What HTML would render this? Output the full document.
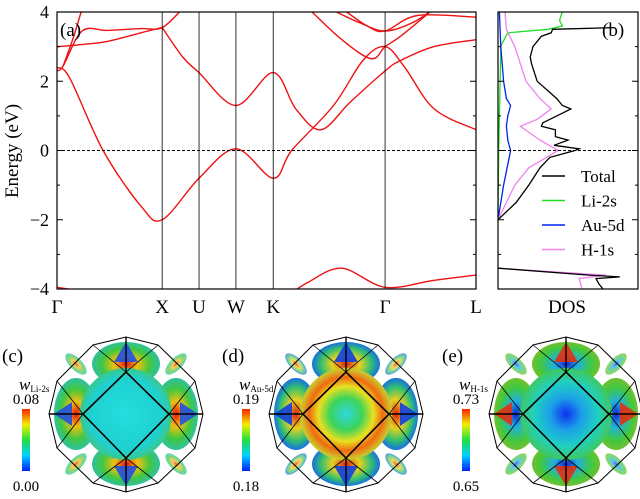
<!DOCTYPE html>
<html><head><meta charset="utf-8">
<style>
body{margin:0;background:#fff;}
svg{display:block;font-family:"Liberation Serif",serif;}
</style></head>
<body>
<svg id="fig" width="640" height="499" viewBox="0 0 640 499" xmlns="http://www.w3.org/2000/svg">
<defs>
<radialGradient id="gc" cx="50%" cy="50%" r="50%"><stop offset="0" stop-color="#22dede"/><stop offset="0.8" stop-color="#1fd0cf"/><stop offset="1" stop-color="#3cc88a"/></radialGradient>
<radialGradient id="gd" cx="50%" cy="50%" r="50%"><stop offset="0" stop-color="#30d8e0"/><stop offset="0.35" stop-color="#3bd45a"/><stop offset="0.6" stop-color="#e8e020"/><stop offset="0.8" stop-color="#f06a10"/><stop offset="1" stop-color="#c8d030"/></radialGradient>
<radialGradient id="ge" cx="50%" cy="50%" r="50%"><stop offset="0" stop-color="#1030f0"/><stop offset="0.35" stop-color="#1aa0e8"/><stop offset="0.7" stop-color="#20d0c0"/><stop offset="1" stop-color="#40c860"/></radialGradient>
<radialGradient id="lc" cx="50%" cy="50%" r="50%"><stop offset="0" stop-color="#e81010"/><stop offset="0.35" stop-color="#f0c010"/><stop offset="0.7" stop-color="#40c840"/><stop offset="1" stop-color="#30c0a0"/></radialGradient>
<radialGradient id="ld" cx="50%" cy="50%" r="50%"><stop offset="0" stop-color="#e02010"/><stop offset="0.4" stop-color="#e8d020"/><stop offset="0.75" stop-color="#30c070"/><stop offset="1" stop-color="#1870e0"/></radialGradient>
<radialGradient id="le" cx="50%" cy="50%" r="50%"><stop offset="0" stop-color="#1020d0"/><stop offset="0.35" stop-color="#20b0e0"/><stop offset="0.75" stop-color="#40c840"/><stop offset="1" stop-color="#70c030"/></radialGradient>
<linearGradient id="cbar" x1="0" y1="1" x2="0" y2="0"><stop offset="0" stop-color="#0020ff"/><stop offset="0.25" stop-color="#00d0ff"/><stop offset="0.5" stop-color="#20e040"/><stop offset="0.75" stop-color="#f0f000"/><stop offset="1" stop-color="#ff2000"/></linearGradient>
<clipPath id="clipA"><rect x="57" y="12" width="419" height="277"/></clipPath>
<clipPath id="clipB"><rect x="498" y="12" width="140" height="277"/></clipPath>
</defs>
<g id="bands" clip-path="url(#clipA)"></g>
<g id="dos" clip-path="url(#clipB)"></g>
<g id="axes"></g>
<g id="bz"></g>
</svg>
<script>
const NS="http://www.w3.org/2000/svg";
const svg=document.getElementById('fig');
function mk(tag,attrs,parent){const e=document.createElementNS(NS,tag);for(const k in attrs)e.setAttribute(k,attrs[k]);(parent||svg).appendChild(e);return e;}

// ---- data ----
const kLabels=["Γ","X","U","W","K","Γ","L"];
const kTicks=[0,0.251,0.339,0.427,0.516,0.783,1.0];
const eTicks=[-4,-2,0,2,4];
const band1K=[0,0.03,0.11,0.2,0.251,0.339,0.427,0.516,0.56,0.66,0.73,0.783,0.83,0.9,1.0];
const band1E=[2.4,2.1,0,-1.6,-2.0,-0.8,0.05,-0.8,0,1.3,2.6,3.0,2.4,1.2,0.6];
const band2K=[0.251,0.3,0.339,0.427,0.516,0.57,0.63,0.7,0.783,0.82,0.9,1.0];
const band2E=[3.55,2.7,2.25,1.3,2.25,1.2,0.6,1.4,2.3,2.6,3.0,3.2];
const band3K=[0,0.015,0.06,0.12,0.2,0.251,0.3];
const band3E=[2.3,2.45,3.45,3.47,3.52,3.55,4.1];
const band4K=[0,0.05,0.12,0.2,0.251];
const band4E=[3.0,3.05,3.15,3.4,3.55];
const band5K=[0.015,0.04,0.06];
const band5E=[2.45,3.3,4.1];
const band6K=[0.6,0.68,0.75,0.783,0.82,0.9];
const band6E=[4.1,3.2,2.65,3.0,3.3,4.1];
const band7K=[0.65,0.72,0.783,0.85,0.9];
const band7E=[4.1,3.7,3.45,3.7,4.1];
const band8K=[0.68,0.74,0.783,0.86,1.0];
const band8E=[4.1,3.6,3.45,3.9,3.85];
const band9K=[0.55,0.6,0.68,0.783,0.9,1.0];
const band9E=[-4.2,-3.8,-3.4,-3.95,-3.75,-3.6];
const band10K=[0,0.05];
const band10E=[-3.95,-4.05];
const bandK=[band1K,band2K,band3K,band4K,band5K,band6K,band7K,band8K,band9K,band10K];
const bandE=[band1E,band2E,band3E,band4E,band5E,band6E,band7E,band8E,band9E,band10E];
const dosNames=["Total","Li-2s","Au-5d","H-1s"];
const dosColors=["#000","#22dd22","#0022ee","#ee82ee"];
const totE=[-2,-1.5,-1,-0.5,-0.2,0,0.05,0.15,0.3,0.4,0.6,0.7,0.8,1.0,1.2,1.3,1.5,2,2.5,2.7,3,3.3,3.4,3.5,3.55];
const totD=[0,1.3,2.2,3,3.7,5.5,5.8,4,5,4.1,4.1,3.1,3.2,4.2,5.2,4.6,4.2,2.8,2.4,2.3,2.5,3.1,3.8,3.9,8.3];
const totLowE=[-3.4,-3.6,-3.65,-3.7,-3.85,-4];
const totLowD=[0,6.5,8.7,7,7.2,7.5];
const hE=[-2,-1,-0.5,0,0.3,0.7,0.9,1.2,1.5,2,2.5,3,3.5,4];
const hD=[0,1.2,2.2,4.3,3,1.6,2.8,3.8,3,2,1.6,1.2,0.6,0.5];
const hLowE=[-3.4,-3.6,-3.7,-4];
const hLowD=[0,7.7,5.8,6];
const auE=[-2,-1,0,0.3,0.7,1.0,1.3,1.5,2,3,4];
const auD=[0,0.4,0.9,0.7,0.6,0.7,0.9,0.6,0.4,0.2,0.1];
const liE=[-2,0,3,3.1,3.4,3.5,3.6,3.75,3.9,4];
const liD=[0,0.05,0.2,0.3,0.7,3.6,4.6,4.4,4.5,4.6];

const X0=57,X1=476,Y0=12,Y1=289;
const kx=k=>X0+k*(X1-X0);
const ey=e=>Y1-(e+4)/8*(Y1-Y0);
const dx=d=>498+d*14;

function spline(pts){
  let d="M"+pts[0][0].toFixed(1)+","+pts[0][1].toFixed(1);
  for(let i=0;i<pts.length-1;i++){
    const p0=pts[i-1]||pts[i],p1=pts[i],p2=pts[i+1],p3=pts[i+2]||p2;
    const t=0.5/3;
    const c1=[p1[0]+(p2[0]-p0[0])*t,p1[1]+(p2[1]-p0[1])*t];
    const c2=[p2[0]-(p3[0]-p1[0])*t,p2[1]-(p3[1]-p1[1])*t];
    d+="C"+c1.map(v=>v.toFixed(1))+" "+c2.map(v=>v.toFixed(1))+" "+p2.map(v=>v.toFixed(1));
  }
  return d;
}
const gB=document.getElementById('bands');
bandK.forEach((ks,i)=>{
  const p=mk('path',{d:spline(ks.map((k,j)=>[kx(k),ey(bandE[i][j])])),fill:'none',stroke:'#ee1111','stroke-width':1.4},gB);
  
  
});
const gD=document.getElementById('dos');
function dosLine(E,D,col,name){
  const p=mk('polyline',{points:E.map((e,j)=>dx(D[j]).toFixed(1)+","+ey(e).toFixed(1)).join(" "),fill:'none',stroke:col,'stroke-width':1.3},gD);
  
  
}
dosLine(liE,liD,dosColors[1],'dos-li-2s');
dosLine(auE,auD,dosColors[2],'dos-au-5d');
dosLine(hE,hD,dosColors[3],'dos-h-1s');
dosLine(hLowE,hLowD,dosColors[3],'dos-h-1s-low');
dosLine(totE,totD,dosColors[0],'dos-total');
dosLine(totLowE,totLowD,dosColors[0],'dos-total-low');

const gA=document.getElementById('axes');
kTicks.forEach((k,i)=>{
  if(i>0&&i<kTicks.length-1){const l=mk('line',{x1:kx(k),x2:kx(k),y1:Y0,y2:Y1,stroke:'#000','stroke-width':0.8},gA);
  }
  const t=mk('text',{x:kx(k),y:313,'font-size':19,'text-anchor':'middle'},gA);t.textContent=kLabels[i];
  
});
mk('line',{x1:X0,x2:X1,y1:ey(0),y2:ey(0),stroke:'#000','stroke-width':1,'stroke-dasharray':'3,2'},gA);
mk('line',{x1:498,x2:638,y1:ey(0),y2:ey(0),stroke:'#000','stroke-width':1,'stroke-dasharray':'3,2'},gA);
eTicks.forEach(e=>{
  const t=mk('text',{x:49,y:ey(e)+6,'font-size':18,'text-anchor':'end'},gA);t.textContent=(e<0?"−":"")+Math.abs(e);
  
});
for(let e=-4;e<=4;e+=1){
  const len=e%2===0?6:3;
  mk('line',{x1:X0,x2:X0+len,y1:ey(e),y2:ey(e),stroke:'#000'},gA);
  mk('line',{x1:X1,x2:X1-len,y1:ey(e),y2:ey(e),stroke:'#000'},gA);
  mk('line',{x1:498,x2:498+len,y1:ey(e),y2:ey(e),stroke:'#000'},gA);
  mk('line',{x1:638,x2:638-len,y1:ey(e),y2:ey(e),stroke:'#000'},gA);
}
const fa=mk('rect',{x:X0,y:Y0,width:X1-X0,height:Y1-Y0,fill:'none',stroke:'#000','stroke-width':1.2},gA);

const fb=mk('rect',{x:498,y:Y0,width:140,height:Y1-Y0,fill:'none',stroke:'#000','stroke-width':1.2},gA);

const yt=mk('text',{x:0,y:0,'font-size':19,'text-anchor':'middle',transform:'translate(18,151) rotate(-90)'},gA);yt.textContent="Energy (eV)";

const xt=mk('text',{x:567,y:313,'font-size':19,'text-anchor':'middle'},gA);xt.textContent="DOS";

const pa=mk('text',{x:60,y:36,'font-size':19},gA);pa.textContent="(a)";
const pb=mk('text',{x:602,y:36,'font-size':19},gA);pb.textContent="(b)";
dosNames.forEach((n,i)=>{
  const y=176+i*24.5;
  const l=mk('line',{x1:542,x2:565,y1:y,y2:y,stroke:dosColors[i],'stroke-width':1.6},gA);
  
  const t=mk('text',{x:581,y:y+6,'font-size':17},gA);t.textContent=n;
  
});

const gZ=document.getElementById('bz');
const panels=[
 {cx:126,lab:"(c)",w:"Li-2s",hi:"0.08",lo:"0.00",cg:"url(#gc)",lg:"url(#lc)",tip:"#2050e0"},
 {cx:346,lab:"(d)",w:"Au-5d",hi:"0.19",lo:"0.18",cg:"url(#gd)",lg:"url(#ld)",tip:"#1040e0"},
 {cx:566,lab:"(e)",w:"H-1s",hi:"0.73",lo:"0.65",cg:"url(#ge)",lg:"url(#le)",tip:"#e03010"}
];
const cy=414;
const outer=[[0,-77],[32,-69],[69,-33],[77,0],[69,34],[32,69],[0,78],[-33,69],[-69,34],[-77,0],[-69,-33],[-33,-69]];
panels.forEach((p,i)=>{
  const g=mk('g',{},gZ);
  
  [[0,-50,34,22],[0,50,34,22],[-50,0,22,36],[50,0,22,36]].forEach(l=>mk('ellipse',{cx:p.cx+l[0],cy:cy+l[1],rx:l[2],ry:l[3],fill:p.lg},g));
  [[-50,-50,45],[50,-50,-45],[-50,50,-45],[50,50,45]].forEach(c=>mk('ellipse',{cx:p.cx+c[0],cy:cy+c[1],rx:14,ry:6,transform:`rotate(${c[2]} ${p.cx+c[0]} ${cy+c[1]})`,fill:p.lg,opacity:0.7},g));
  [[0,-72,0,-52],[0,72,0,52],[-72,0,-54,0],[72,0,54,0]].forEach(t=>{
    const dxn=t[0]===0?12:0,dyn=t[1]===0?12:0;
    mk('polygon',{points:`${p.cx+t[0]},${cy+t[1]} ${p.cx+t[2]+dxn},${cy+t[3]+dyn} ${p.cx+t[2]-dxn},${cy+t[3]-dyn}`,fill:p.tip,opacity:0.9},g);
  });
  mk('circle',{cx:p.cx,cy:cy,r:46,fill:p.cg},g);
  mk('polygon',{points:outer.map(o=>(p.cx+o[0])+","+(cy+o[1])).join(" "),fill:'none',stroke:'#000','stroke-width':1},g);
  mk('polygon',{points:`${p.cx-43},${cy} ${p.cx},${cy-42} ${p.cx+43},${cy} ${p.cx},${cy+44}`,fill:'none',stroke:'#000','stroke-width':1.6},g);
  [[0,-77,0,-42],[0,78,0,44],[-77,0,-43,0],[77,0,43,0],
   [-33,-69,0,-42],[32,-69,0,-42],[-33,69,0,44],[32,69,0,44],
   [-69,-33,-43,0],[-69,34,-43,0],[69,-33,43,0],[69,34,43,0]].forEach(s=>mk('line',{x1:p.cx+s[0],y1:cy+s[1],x2:p.cx+s[2],y2:cy+s[3],stroke:'#000','stroke-width':s[0]===0||s[1]===0?1.4:0.8},g));
  const lab=mk('text',{x:p.cx-124,y:362,'font-size':19},gZ);lab.textContent=p.lab;
  
  const bx=p.cx-104;
  const cb=mk('rect',{x:bx,y:409,width:8,height:62,fill:'url(#cbar)'},gZ);
  
  const wt=mk('text',{x:bx-3,y:390,'font-size':17,'font-style':'italic'},gZ);wt.textContent="w";
  const ws=mk('tspan',{'font-size':9,'font-style':'normal',dy:2},wt);ws.textContent=p.w;
  
  const th=mk('text',{x:bx+4,y:404,'font-size':15,'text-anchor':'middle'},gZ);th.textContent=p.hi;
  
  const tl=mk('text',{x:bx+4,y:491,'font-size':15,'text-anchor':'middle'},gZ);tl.textContent=p.lo;
  
});
</script>
</body></html>
